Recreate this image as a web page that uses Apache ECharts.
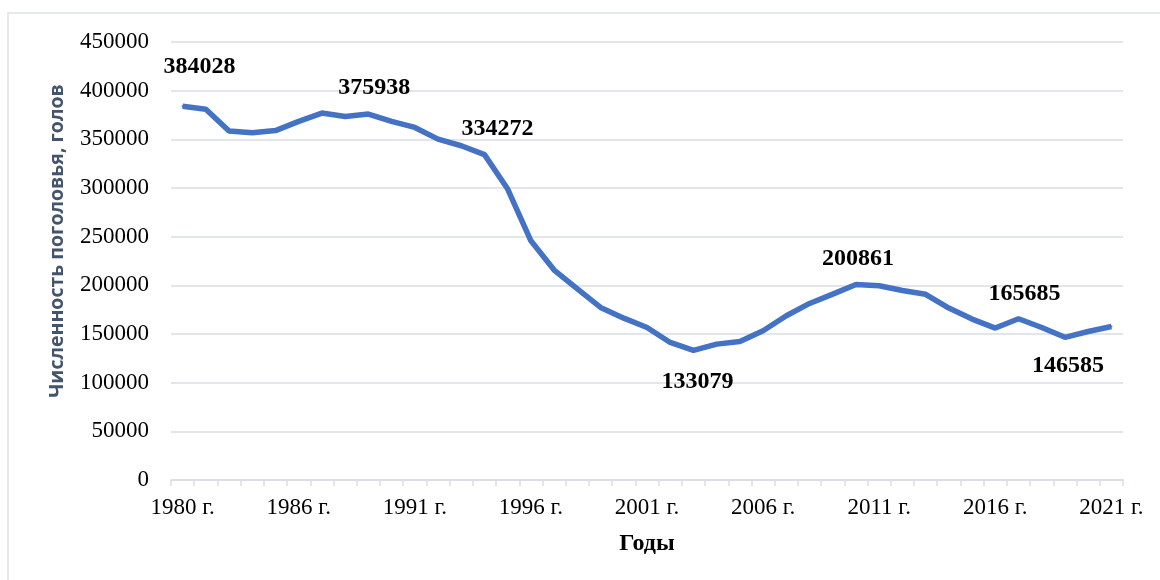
<!DOCTYPE html>
<html>
<head>
<meta charset="utf-8">
<script src="https://cdn.jsdelivr.net/npm/echarts@6/dist/echarts.min.js"></script>
<style>
  html, body { margin: 0; padding: 0; background: #fff; }
  #chart { width: 1160px; height: 580px; }
</style>
</head>
<body>
<div id="chart"></div>
<script>
  // годы (один год в начале ряда пропущен в исходной таблице)
  var years = [1980, 1981, 1982, 1983, 1985, 1986, 1987, 1988, 1989, 1990,
    1991, 1992, 1993, 1994, 1995, 1996, 1997, 1998, 1999, 2000,
    2001, 2002, 2003, 2004, 2005, 2006, 2007, 2008, 2009, 2010,
    2011, 2012, 2013, 2014, 2015, 2016, 2017, 2018, 2019, 2020, 2021];
  var categories = years.map(function (y) { return y + ' г.'; });

  // численность поголовья, голов
  var herd = [384028, 381000, 358500, 356800, 359000, 368500, 377000, 373500, 375938, 368400,
    362200, 350200, 343400, 334272, 298900, 245800, 215700, 196300, 177300, 166300,
    156700, 141300, 133079, 139600, 142300, 153300, 168700, 181400, 191000, 200861,
    199600, 194700, 190800, 176600, 165300, 156100, 165685, 156700, 146585, 152600, 157700];

  // подписанные точки: индекс -> смещение подписи
  var labelled = {0: [17, -39], 8: [6, -26], 13: [13, -26], 22: [4, 31], 29: [2, -26], 36: [6, -25], 38: [3, 28]};

  var seriesData = herd.map(function (v, i) {
    if (labelled[i]) {
      return {
        value: v,
        label: { show: true, position: 'inside', offset: labelled[i] }
      };
    }
    return v;
  });

  var chart = echarts.init(document.getElementById('chart'));
  chart.setOption({
    animation: false,
    textStyle: { fontFamily: 'Liberation Serif' },
    graphic: [{
      type: 'rect',
      shape: { x: 8, y: 13, width: 1200, height: 620 },
      style: { fill: 'none', stroke: '#dde1e7', lineWidth: 1.5 },
      silent: true
    }],
    grid: { left: 171, right: 37, top: 42, bottom: 100 },
    xAxis: {
      type: 'category',
      data: categories,
      boundaryGap: true,
      name: 'Годы',
      nameLocation: 'middle',
      nameGap: 52,
      nameTextStyle: { fontFamily: 'Liberation Serif', fontWeight: 'bold', fontSize: 24, color: '#000' },
      axisLine: { lineStyle: { color: '#d9dde3', width: 1.5 } },
      axisTick: { show: true, interval: 0, length: 6, lineStyle: { color: '#d9dde3', width: 1.5 } },
      axisLabel: { interval: 4, fontSize: 23, color: '#000', margin: 16 },
      splitLine: { show: false }
    },
    yAxis: {
      type: 'value',
      min: 0,
      max: 450000,
      interval: 50000,
      name: 'Численность поголовья, голов',
      nameLocation: 'middle',
      nameGap: 104,
      nameTextStyle: { fontFamily: 'Open Sans', fontWeight: 'bold', fontSize: 19.5, color: '#44546a', padding: [0, 0, 0, 40] },
      axisLine: { show: false },
      axisTick: { show: false },
      axisLabel: { fontSize: 23, color: '#000', margin: 22, formatter: function (v) { return String(v); } },
      splitLine: { lineStyle: { color: '#d9dde3', width: 1.5 } }
    },
    series: [{
      type: 'line',
      data: seriesData,
      symbol: 'circle',
      symbolSize: 2,
      showSymbol: true,
      itemStyle: { color: '#4472c4' },
      lineStyle: { color: '#4472c4', width: 5.5 },
      label: {
        show: false,
        fontFamily: 'Liberation Serif',
        fontWeight: 'bold',
        fontSize: 24,
        color: '#000'
      }
    }]
  });
</script>
</body>
</html>
